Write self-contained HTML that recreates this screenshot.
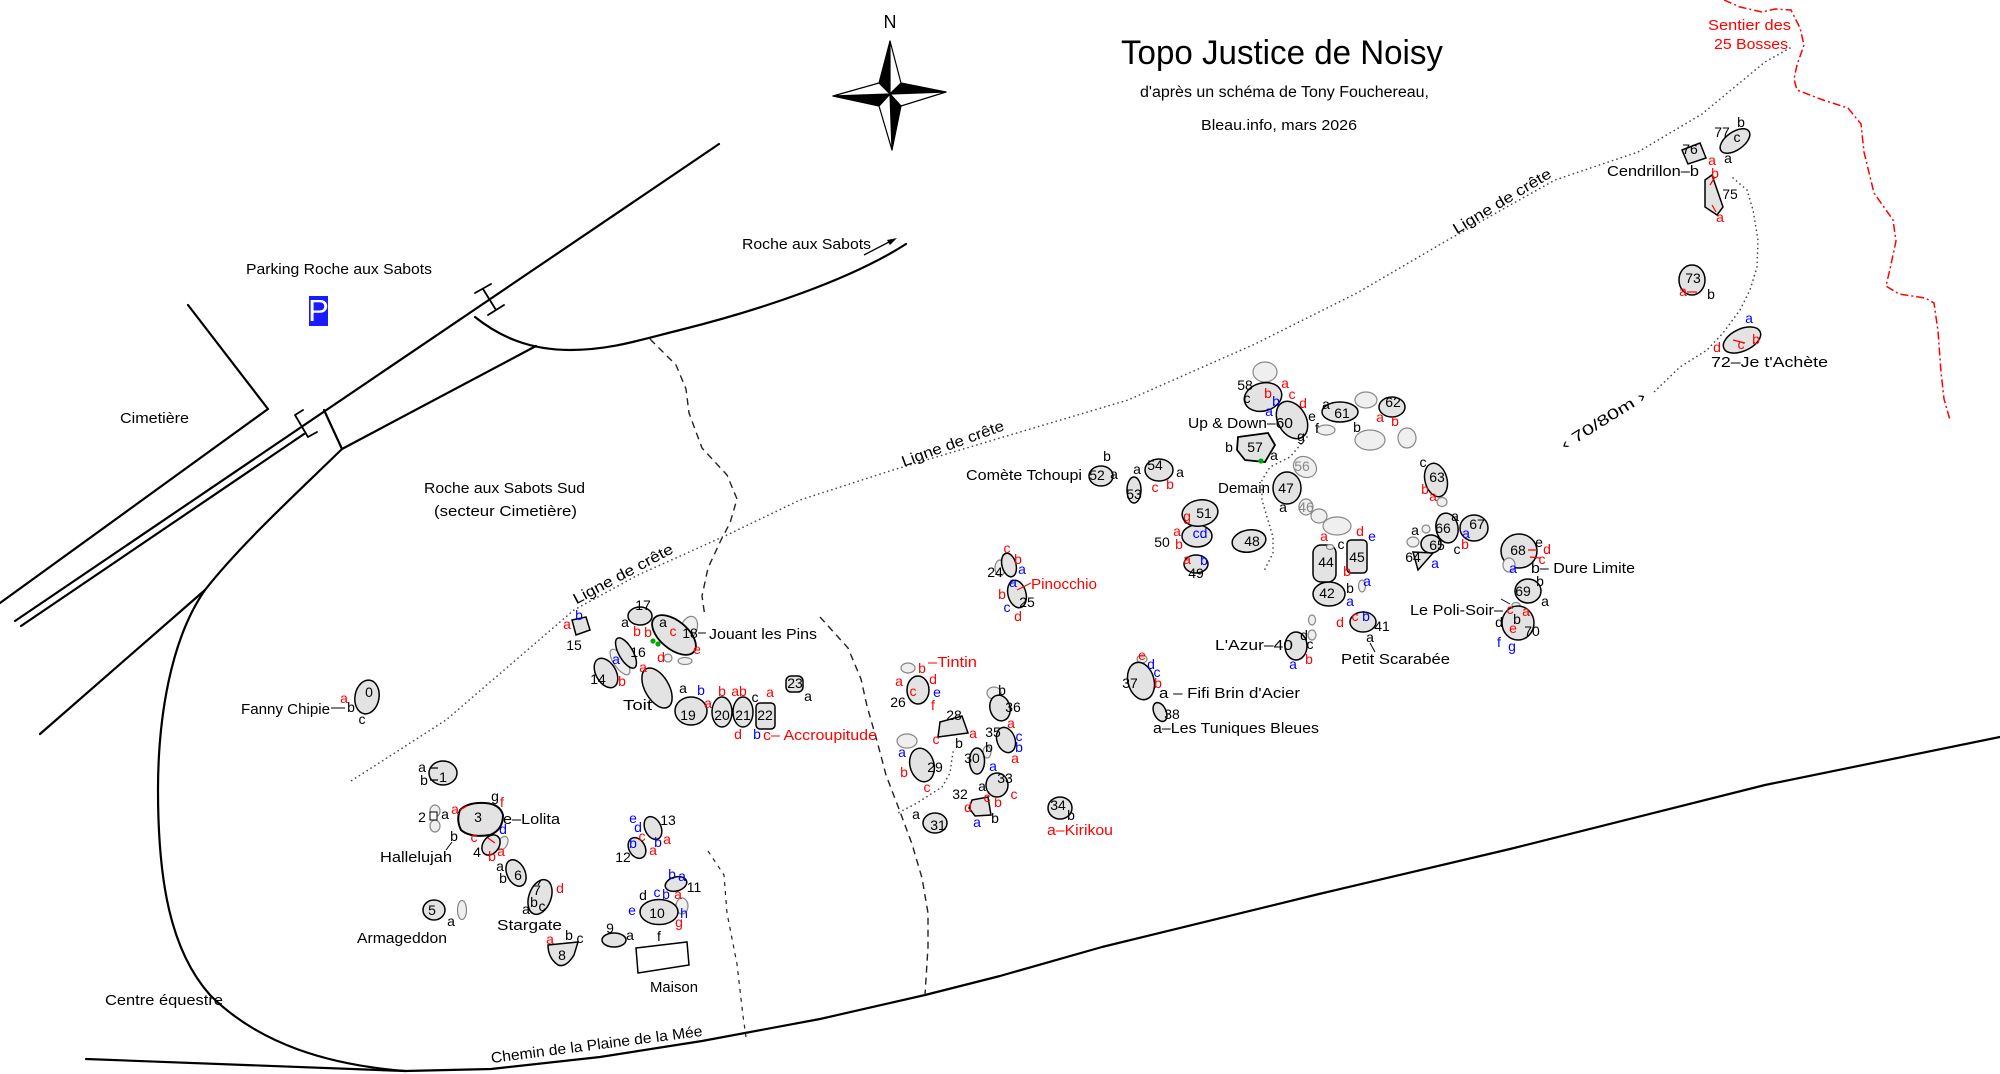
<!DOCTYPE html>
<html><head><meta charset="utf-8"><title>Topo Justice de Noisy</title>
<style>
html,body{margin:0;padding:0;background:#fff;}
svg{display:block;}
.t{font-family:"Liberation Sans","DejaVu Sans",sans-serif;font-size:15px;fill:#000;}
.s{font-size:14px;text-anchor:middle;}
.r{fill:#f00;}
.u{fill:#00f;}
.gy{fill:#888;}
.rd{fill:none;stroke:#000;stroke-width:2.2;stroke-linejoin:round;stroke-linecap:round;}
.bo{fill:#e3e3e3;stroke:#000;stroke-width:1.5;}
.go{fill:#efefef;stroke:#888;stroke-width:1.2;}
.dot{fill:none;stroke:#444;stroke-width:1.6;stroke-dasharray:0.1 4.5;stroke-linecap:round;}
.dash{fill:none;stroke:#222;stroke-width:1.4;stroke-dasharray:7 5;}
</style></head>
<body>
<svg width="2000" height="1074" viewBox="0 0 2000 1074" xmlns="http://www.w3.org/2000/svg">
<rect width="2000" height="1074" fill="#fff"/>

<!-- ROADS -->
<path class="rd" d="M719,144 L15,621"/>
<path class="rd" d="M304,434 L21,626"/>
<path class="rd" d="M188,305 L268,409 L0,603"/>
<path class="rd" d="M324,410 L342,449"/>
<path class="rd" d="M342,449 L536,346"/>
<path class="rd" d="M475,317 C500,337 530,350 570,350 C610,350 640,340 680,330 C760,310 850,280 906,244"/>
<path class="rd" d="M342,449 C300,490 240,545 205,590 C170,640 158,720 158,790 C158,880 170,950 210,995 C260,1045 330,1065 405,1071"/>
<path class="rd" d="M205,590 L40,734"/>
<path class="rd" d="M86,1059 L405,1071 L491,1069 L600,1057 L702,1041 L820,1019 L925,995 L1000,976 L1102,947 L1319,894 L1510,849 L1765,785 L2000,737"/>
<!-- bridge markers -->
<path class="rd" d="M483,289 L496,310 M475,293 L491,284 M488,315 L504,305" style="stroke-width:1.8"/>
<path class="rd" d="M303,410 L295,415 L308,437 L317,432" style="stroke-width:1.8"/>

<!-- dashed / dotted paths -->
<polyline class="dash" points="650,339 676,365 686,389 689,413 702,448 727,475 737,499 730,523 721,540 708,568 702,596 705,617"/>
<polyline class="dash" points="820,617 848,648 861,679 867,706 877,741 886,775 899,809 912,844 922,878 928,913 928,947 925,995"/>
<polyline class="dash" style="stroke-dasharray:4 5;stroke-width:1.2" points="708,851 724,875 727,913 737,964 743,1016 746,1037"/>
<polyline class="dot" points="1790,48 1765,62 1702,114 1638,152 1555,180 1446,241 1357,293 1255,344 1128,400 1000,438 893,470 800,500 727,535 638,575 574,610 510,665 446,720 351,781"/>
<polyline class="dot" points="953,752 950,773 942,787 917,803 898,813"/>
<polyline class="dot" points="1307,437 1290,457 1270,467 1262,480 1262,500 1267,517 1273,537 1273,553 1268,563 1263,573"/>
<polyline class="dot" points="1733,178 1747,190 1753,210 1758,240 1757,267 1750,290 1740,310 1723,333 1707,350 1680,367 1653,393"/>
<!-- red sentier -->
<polyline fill="none" stroke="#f00" stroke-width="1.5" stroke-dasharray="8 3 2 3" points="1724,0 1740,7 1762,12 1775,9 1791,10 1800,28 1804,45 1797,65 1794,79 1797,90 1823,100 1848,108 1861,124 1864,152 1874,193 1893,220 1896,241 1890,269 1886,286 1899,294 1925,298 1934,303 1938,331 1941,372 1944,399 1950,420"/>

<!-- COMPASS -->
<g stroke="#000" stroke-width="1.2" stroke-linejoin="round">
<polygon points="890,41 879,83 890,94" fill="#000"/>
<polygon points="890,41 901,83 890,94" fill="#fff"/>
<polygon points="946,92 901,83 890,94" fill="#000"/>
<polygon points="946,92 901,106 890,94" fill="#fff"/>
<polygon points="892,150 901,106 890,94" fill="#000"/>
<polygon points="892,150 879,106 890,94" fill="#fff"/>
<polygon points="833,96 879,106 890,94" fill="#000"/>
<polygon points="833,96 879,83 890,94" fill="#fff"/>
</g>
<text class="t" x="890" y="28" style="font-size:18px;text-anchor:middle">N</text>

<!-- TITLE -->
<text class="t" x="1121" y="64" style="font-size:34px" textLength="322" lengthAdjust="spacingAndGlyphs">Topo Justice de Noisy</text>
<text class="t" x="1140" y="97" style="font-size:15.5px" textLength="289" lengthAdjust="spacingAndGlyphs">d'après un schéma de Tony Fouchereau,</text>
<text class="t" x="1201" y="130" textLength="156" lengthAdjust="spacingAndGlyphs">Bleau.info, mars 2026</text>
<text class="t r" x="1708" y="30" textLength="83" lengthAdjust="spacingAndGlyphs">Sentier des</text>
<text class="t r" x="1714" y="49" textLength="74" lengthAdjust="spacingAndGlyphs">25 Bosses</text>

<!-- BIG LABELS -->
<text class="t" x="246" y="274" textLength="186" lengthAdjust="spacingAndGlyphs">Parking Roche aux Sabots</text>
<rect x="309" y="296" width="19" height="30" fill="#1a1aff"/>
<text x="318.5" y="321" style="font-family:'Liberation Sans',sans-serif;font-size:31px;fill:#fff;text-anchor:middle">P</text>
<text class="t" x="742" y="249" textLength="129" lengthAdjust="spacingAndGlyphs">Roche aux Sabots</text>
<line x1="864" y1="255" x2="891" y2="241" stroke="#000" stroke-width="1.3"/>
<polygon points="897,238 887,240 890,245" fill="#000"/>
<text class="t" x="120" y="423" textLength="69" lengthAdjust="spacingAndGlyphs">Cimetière</text>
<text class="t" x="424" y="493" textLength="161" lengthAdjust="spacingAndGlyphs">Roche aux Sabots Sud</text>
<text class="t" x="434" y="516" textLength="143" lengthAdjust="spacingAndGlyphs">(secteur Cimetière)</text>
<text class="t" x="105" y="1005" textLength="118" lengthAdjust="spacingAndGlyphs">Centre équestre</text>
<text class="t" transform="translate(491,1058) rotate(-7.3)" x="0" y="5" textLength="213" lengthAdjust="spacingAndGlyphs">Chemin de la Plaine de la Mée</text>
<text class="t" transform="translate(1454,230) rotate(-31)" x="0" y="5" textLength="112" lengthAdjust="spacingAndGlyphs">Ligne de crête</text>
<text class="t" transform="translate(902,462) rotate(-20)" x="0" y="5" textLength="108" lengthAdjust="spacingAndGlyphs">Ligne de crête</text>
<text class="t" transform="translate(574,600) rotate(-28)" x="0" y="5" textLength="111" lengthAdjust="spacingAndGlyphs">Ligne de crête</text>
<text class="t" transform="translate(1562,446) rotate(-32)" x="0" y="5" textLength="97" lengthAdjust="spacingAndGlyphs">‹ 70/80m ›</text>

<!-- BOULDERS -->
<g>
<ellipse class="bo" cx="367" cy="697" rx="12" ry="17" transform="rotate(10 367 697)"/>
<ellipse class="bo" cx="443" cy="773" rx="14" ry="12"/>
<ellipse class="go" cx="435" cy="811" rx="5" ry="6"/>
<ellipse class="go" cx="435" cy="826" rx="5" ry="6"/>
<rect x="430" y="812" width="7" height="8" fill="#fff" stroke="#000" stroke-width="1"/>
<path class="bo" d="M460,810 Q468,802 485,803 Q500,804 503,815 Q503,830 490,835 Q470,838 461,830 Q456,820 460,810Z" style="stroke-width:2"/>
<ellipse class="go" cx="503" cy="843" rx="4.5" ry="7" transform="rotate(25 503 843)"/>
<ellipse class="bo" cx="491" cy="845" rx="8" ry="11" transform="rotate(35 491 845)"/>
<ellipse class="bo" cx="434" cy="910" rx="11" ry="10"/>
<ellipse class="go" cx="462" cy="910" rx="4.5" ry="9.5"/>
<ellipse class="bo" cx="516" cy="873" rx="9" ry="14" transform="rotate(-25 516 873)"/>
<ellipse class="bo" cx="540" cy="897" rx="11" ry="18" transform="rotate(20 540 897)"/>
<path class="bo" d="M548,945 L578,942 L574,955 Q566,968 558,965 Q548,958 548,945Z"/>
<ellipse class="bo" cx="614" cy="940" rx="12" ry="7"/>
<ellipse class="go" cx="682" cy="906" rx="6" ry="8"/>
<ellipse class="bo" cx="659" cy="912" rx="19" ry="12.5"/>
<ellipse class="bo" cx="676" cy="884" rx="11" ry="7" transform="rotate(-15 676 884)"/>
<ellipse class="bo" cx="637" cy="848" rx="8" ry="11" transform="rotate(-30 637 848)"/>
<ellipse class="bo" cx="653" cy="828" rx="8" ry="12" transform="rotate(-25 653 828)"/>
<polygon points="636,948 687,942 689,965 638,973" fill="#fff" stroke="#000" stroke-width="1.5"/>

<polygon class="bo" points="572,620 586,617 590,630 576,635"/>
<ellipse class="bo" cx="640" cy="616" rx="12" ry="9"/>
<ellipse class="go" cx="689" cy="628" rx="8" ry="12" transform="rotate(20 689 628)"/>
<ellipse class="go" cx="668" cy="658" rx="4" ry="4"/>
<ellipse class="go" cx="685" cy="661" rx="7" ry="3.5"/>
<ellipse class="bo" cx="674" cy="635" rx="26" ry="14" transform="rotate(40 674 635)" style="stroke-width:1.8"/>
<ellipse class="go" cx="620" cy="662" rx="6" ry="15" transform="rotate(-35 620 662)"/>
<ellipse class="bo" cx="626" cy="653" rx="7" ry="17" transform="rotate(-30 626 653)"/>
<ellipse class="bo" cx="606" cy="673" rx="10" ry="16" transform="rotate(-30 606 673)"/>
<ellipse class="bo" cx="657" cy="688" rx="12" ry="22" transform="rotate(-30 657 688)"/>
<ellipse class="bo" cx="691" cy="711" rx="16" ry="14"/>
<ellipse class="bo" cx="722" cy="712" rx="10" ry="15"/>
<ellipse class="bo" cx="743" cy="712" rx="10" ry="15"/>
<rect class="bo" x="756" y="703" width="19" height="26" rx="4"/>
<rect class="bo" x="786" y="676" width="17" height="16" rx="5"/>
<circle cx="653" cy="641" r="2.6" fill="#0a0"/>
<circle cx="658" cy="644" r="2.6" fill="#0a0"/>

<ellipse class="go" cx="1000" cy="568" rx="5" ry="8"/>
<ellipse class="bo" cx="1009" cy="565" rx="7" ry="12" transform="rotate(-15 1009 565)"/>
<ellipse class="bo" cx="1017" cy="594" rx="9" ry="14" transform="rotate(-15 1017 594)"/>
<ellipse class="go" cx="908" cy="668" rx="7" ry="5"/>
<ellipse class="bo" cx="918" cy="690" rx="11" ry="14"/>
<polygon class="bo" points="940,722 962,716 968,733 938,737"/>
<ellipse class="go" cx="907" cy="741" rx="10" ry="7"/>
<ellipse class="bo" cx="922" cy="765" rx="12" ry="17" transform="rotate(-15 922 765)"/>
<ellipse class="go" cx="987" cy="752" rx="4" ry="6"/>
<ellipse class="bo" cx="977" cy="761" rx="7.5" ry="13"/>
<ellipse class="bo" cx="935" cy="823" rx="12" ry="10"/>
<polygon class="bo" points="972,800 988,797 991,815 975,816 969,808"/>
<ellipse class="bo" cx="997" cy="785" rx="11" ry="12"/>
<ellipse class="bo" cx="1060" cy="808" rx="12" ry="11"/>
<ellipse class="bo" cx="1006" cy="740" rx="9" ry="13" transform="rotate(-20 1006 740)"/>
<ellipse class="go" cx="994" cy="693" rx="7" ry="6"/>
<ellipse class="bo" cx="1000" cy="708" rx="10" ry="13" transform="rotate(-15 1000 708)"/>
<ellipse class="go" cx="1142" cy="659" rx="5" ry="4"/>
<ellipse class="bo" cx="1141" cy="681" rx="13" ry="19" transform="rotate(-15 1141 681)"/>
<ellipse class="bo" cx="1160" cy="712" rx="6" ry="10" transform="rotate(-25 1160 712)"/>

<ellipse class="go" cx="1312" cy="620" rx="3.5" ry="5"/>
<ellipse class="go" cx="1312" cy="635" rx="4" ry="5"/>
<ellipse class="bo" cx="1296" cy="646" rx="11" ry="14"/>
<ellipse class="bo" cx="1363" cy="622" rx="13" ry="10"/>
<ellipse class="bo" cx="1329" cy="594" rx="16" ry="12"/>
<rect class="bo" x="1313" y="545" width="23" height="37" rx="8"/>
<rect class="bo" x="1347" y="540" width="20" height="33" rx="4"/>
<ellipse class="go" cx="1362" cy="586" rx="3.5" ry="6"/>
<ellipse class="go" cx="1330" cy="547" rx="3.5" ry="2.5"/>
<ellipse class="go" cx="1306" cy="507" rx="7" ry="8"/>
<ellipse class="go" cx="1319" cy="516" rx="8" ry="7"/>
<ellipse class="go" cx="1337" cy="526" rx="14" ry="9"/>
<ellipse class="bo" cx="1287" cy="488" rx="14" ry="16"/>
<ellipse class="bo" cx="1249" cy="541" rx="17" ry="11" transform="rotate(-10 1249 541)"/>
<ellipse class="bo" cx="1196" cy="564" rx="12" ry="9"/>
<ellipse class="bo" cx="1197" cy="536" rx="15" ry="11"/>
<ellipse class="bo" cx="1200" cy="513" rx="18" ry="13" transform="rotate(-10 1200 513)"/>
<ellipse class="bo" cx="1101" cy="476" rx="12" ry="10"/>
<ellipse class="bo" cx="1134" cy="490" rx="7" ry="13"/>
<ellipse class="bo" cx="1159" cy="470" rx="14" ry="11"/>
<ellipse class="go" cx="1305" cy="467" rx="12" ry="10" transform="rotate(30 1305 467)"/>
<polygon class="bo" points="1238,437 1268,433 1275,445 1265,462 1245,460 1237,450" style="stroke-width:1.8"/>
<circle cx="1261" cy="461" r="2.6" fill="#0a0"/>
<ellipse class="go" cx="1265" cy="372" rx="12" ry="10"/>
<ellipse class="bo" cx="1263" cy="397" rx="19" ry="14" transform="rotate(-15 1263 397)"/>
<ellipse class="bo" cx="1292" cy="420" rx="14" ry="20" transform="rotate(-30 1292 420)"/>
<ellipse class="go" cx="1326" cy="430" rx="9" ry="5"/>
<ellipse class="bo" cx="1340" cy="412" rx="18" ry="10"/>
<ellipse class="bo" cx="1392" cy="407" rx="13" ry="10"/>
<ellipse class="go" cx="1366" cy="400" rx="11" ry="8"/>
<ellipse class="go" cx="1370" cy="440" rx="15" ry="10"/>
<ellipse class="go" cx="1407" cy="438" rx="9" ry="10"/>

<ellipse class="bo" cx="1436" cy="480" rx="11" ry="17" transform="rotate(-15 1436 480)"/>
<ellipse class="go" cx="1442" cy="502" rx="5" ry="4.5"/>
<polygon class="bo" points="1413,552 1433,553 1418,570"/>
<ellipse class="go" cx="1413" cy="542" rx="6" ry="5"/>
<ellipse class="go" cx="1426" cy="529" rx="4" ry="4"/>
<ellipse class="bo" cx="1431" cy="544" rx="10" ry="9"/>
<ellipse class="bo" cx="1447" cy="528" rx="11" ry="15" transform="rotate(-10 1447 528)"/>
<ellipse class="bo" cx="1474" cy="528" rx="14" ry="13"/>
<ellipse class="bo" cx="1519" cy="551" rx="18" ry="17"/>
<ellipse class="go" cx="1509" cy="565" rx="6" ry="7"/>
<ellipse class="bo" cx="1528" cy="591" rx="13" ry="12"/>
<ellipse class="go" cx="1516" cy="605" rx="4" ry="2.5"/>
<ellipse class="bo" cx="1518" cy="623" rx="16" ry="17"/>
<ellipse class="bo" cx="1742" cy="340" rx="20" ry="11" transform="rotate(-25 1742 340)"/>
<ellipse class="bo" cx="1692" cy="280" rx="13" ry="15"/>
<polygon class="bo" points="1705,180 1712,175 1723,207 1717,215 1705,207"/>
<polygon class="bo" points="1682,150 1700,143 1706,158 1688,164"/>
<ellipse class="bo" cx="1735" cy="141" rx="17" ry="9" transform="rotate(-35 1735 141)"/>
</g>

<!-- connecting lines -->
<g stroke="#000" stroke-width="1">
<line x1="331" y1="708" x2="345" y2="708"/>
<line x1="446" y1="850" x2="452" y2="842"/>
<line x1="698" y1="633" x2="706" y2="633"/>
<line x1="1370" y1="643" x2="1375" y2="652"/>
<line x1="1501" y1="599" x2="1510" y2="604"/>
</g>
<line x1="1017" y1="590" x2="1031" y2="583" stroke="#f00" stroke-width="1"/>

<!-- NAMED LABELS -->
<text class="t" x="241" y="714" textLength="89" lengthAdjust="spacingAndGlyphs">Fanny Chipie</text>
<text class="t" x="380" y="862" textLength="72" lengthAdjust="spacingAndGlyphs">Hallelujah</text>
<text class="t" x="503" y="824" textLength="57" lengthAdjust="spacingAndGlyphs">e–Lolita</text>
<text class="t" x="357" y="943" textLength="90" lengthAdjust="spacingAndGlyphs">Armageddon</text>
<text class="t" x="497" y="930" textLength="65" lengthAdjust="spacingAndGlyphs">Stargate</text>
<text class="t" x="650" y="992" textLength="48" lengthAdjust="spacingAndGlyphs">Maison</text>
<text class="t" x="623" y="710" textLength="29" lengthAdjust="spacingAndGlyphs">Toit</text>
<text class="t" x="709" y="639" textLength="108" lengthAdjust="spacingAndGlyphs">Jouant les Pins</text>
<text class="t r" x="763" y="740" textLength="114" lengthAdjust="spacingAndGlyphs">c– Accroupitude</text>
<text class="t r" x="928" y="667" textLength="49" lengthAdjust="spacingAndGlyphs">–Tintin</text>
<text class="t r" x="1031" y="589" textLength="66" lengthAdjust="spacingAndGlyphs">Pinocchio</text>
<text class="t r" x="1047" y="835" textLength="66" lengthAdjust="spacingAndGlyphs">a–Kirikou</text>
<text class="t" x="1159" y="698" textLength="141" lengthAdjust="spacingAndGlyphs">a – Fifi Brin d'Acier</text>
<text class="t" x="1153" y="733" textLength="166" lengthAdjust="spacingAndGlyphs">a–Les Tuniques Bleues</text>
<text class="t" x="966" y="480" textLength="116" lengthAdjust="spacingAndGlyphs">Comète Tchoupi</text>
<text class="t" x="1188" y="428" textLength="105" lengthAdjust="spacingAndGlyphs">Up &amp; Down–60</text>
<text class="t" x="1218" y="493" textLength="52" lengthAdjust="spacingAndGlyphs">Demain</text>
<text class="t" x="1215" y="650" textLength="78" lengthAdjust="spacingAndGlyphs">L'Azur–40</text>
<text class="t" x="1341" y="664" textLength="109" lengthAdjust="spacingAndGlyphs">Petit Scarabée</text>
<text class="t" x="1410" y="615" textLength="93" lengthAdjust="spacingAndGlyphs">Le Poli-Soir–</text>
<text class="t" x="1531" y="573" textLength="104" lengthAdjust="spacingAndGlyphs">b– Dure Limite</text>
<text class="t" x="1607" y="176" textLength="92" lengthAdjust="spacingAndGlyphs">Cendrillon–b</text>
<text class="t" x="1711" y="367" textLength="117" lengthAdjust="spacingAndGlyphs">72–Je t'Achète</text>

<!-- SMALL LABELS -->
<g class="t s">
<text x="369" y="697">0</text><text class="r" x="344" y="703">a</text><text x="351" y="712">b</text><text x="362" y="724">c</text>
<text x="443" y="782">1</text><text x="422" y="772">a</text><text x="424" y="785">b</text>
<text x="422" y="822">2</text><text x="445" y="819">a</text>
<text x="478" y="822">3</text><text class="r" x="455" y="814">a</text><text x="495" y="801">g</text><text class="r" x="502" y="807">f</text><text class="u" x="503" y="834">d</text><text class="r" x="474" y="842">c</text><text x="454" y="841">b</text>
<text x="477" y="857">4</text><text class="r" x="492" y="861">b</text><text class="r" x="501" y="856">a</text>
<text x="518" y="880">6</text><text x="500" y="871">a</text><text x="503" y="883">b</text>
<text x="537" y="895">7</text><text class="r" x="560" y="893">d</text><text x="534" y="907">b</text><text x="526" y="914">a</text><text x="542" y="911">c</text>
<text x="432" y="915">5</text><text x="451" y="926">a</text>
<text x="562" y="960">8</text><text class="r" x="550" y="944">a</text><text x="569" y="940">b</text><text x="580" y="943">c</text>
<text x="610" y="933">9</text><text x="630" y="940">a</text>
<text x="657" y="918">10</text><text x="643" y="900">d</text><text class="u" x="657" y="897">c</text><text class="u" x="666" y="899">b</text><text class="r" x="678" y="899">a</text><text class="u" x="632" y="915">e</text><text class="u" x="684" y="918">h</text><text class="r" x="679" y="927">g</text><text x="659" y="941">f</text>
<text x="694" y="892">11</text><text class="u" x="672" y="879">b</text><text class="u" x="682" y="881">a</text>
<text x="623" y="862">12</text><text class="u" x="633" y="848">b</text><text class="r" x="653" y="855">a</text>
<text x="668" y="825">13</text><text class="u" x="633" y="823">e</text><text class="u" x="638" y="832">d</text><text class="r" x="642" y="841">c</text><text class="u" x="658" y="847">b</text><text class="r" x="667" y="844">a</text>
<text x="574" y="650">15</text><text class="r" x="567" y="629">a</text><text class="u" x="579" y="620">b</text>
<text x="643" y="610">17</text><text x="625" y="627">a</text><text class="r" x="637" y="636">b</text>
<text x="690" y="638">18</text><text x="663" y="627">a</text><text class="r" x="648" y="637">b</text><text class="r" x="673" y="636">c</text><text class="r" x="661" y="662">d</text><text class="r" x="697" y="654">e</text>
<text x="638" y="657">16</text>
<text x="598" y="684">14</text><text class="u" x="616" y="664">a</text><text class="r" x="622" y="686">b</text>
<text class="r" x="643" y="672">a</text>
<text x="688" y="720">19</text><text x="683" y="693">a</text><text class="u" x="701" y="695">b</text>
<text x="722" y="720">20</text><text class="r" x="708" y="708">a</text><text class="r" x="722" y="696">b</text>
<text x="743" y="720">21</text><text class="r" x="739" y="696">ab</text><text class="r" x="738" y="739">d</text>
<text x="765" y="720">22</text><text x="755" y="702">c</text><text class="r" x="770" y="697">a</text><text class="u" x="757" y="739">b</text>
<text x="795" y="688">23</text><text x="808" y="701">a</text>
<text x="995" y="577">24</text><text class="r" x="1007" y="553">c</text><text class="r" x="1018" y="564">b</text><text class="u" x="1022" y="574">a</text>
<text x="1027" y="607">25</text><text class="u" x="1013" y="587">a</text><text class="r" x="1002" y="599">b</text><text class="u" x="1007" y="612">c</text><text class="r" x="1018" y="621">d</text>
<text x="898" y="707">26</text><text class="r" x="899" y="686">a</text><text class="r" x="922" y="673">b</text><text class="r" x="933" y="684">d</text><text class="r" x="913" y="696">c</text><text class="u" x="937" y="697">e</text><text class="r" x="933" y="710">f</text>
<text x="954" y="720">28</text><text class="r" x="973" y="738">a</text><text class="r" x="936" y="744">c</text><text x="959" y="748">b</text>
<text x="935" y="772">29</text><text class="u" x="902" y="757">a</text><text class="r" x="904" y="777">b</text><text class="r" x="927" y="792">c</text>
<text x="972" y="763">30</text><text x="989" y="752">b</text><text class="u" x="993" y="771">a</text>
<text x="938" y="830">31</text><text x="916" y="819">a</text>
<text x="960" y="799">32</text><text class="r" x="987" y="802">c</text><text class="r" x="968" y="812">d</text><text class="u" x="977" y="827">a</text><text x="995" y="823">b</text>
<text x="1005" y="783">33</text><text x="982" y="791">a</text><text class="r" x="998" y="807">b</text><text class="r" x="1014" y="799">c</text>
<text x="993" y="737">35</text><text class="u" x="1019" y="741">c</text><text class="u" x="1019" y="752">b</text><text class="r" x="1015" y="763">a</text>
<text x="1013" y="712">36</text><text x="1002" y="695">b</text><text class="r" x="1011" y="728">a</text>
<text x="1058" y="810">34</text><text x="1071" y="820">b</text>
<text x="1130" y="688">37</text><text class="r" x="1142" y="660">e</text><text class="u" x="1151" y="669">d</text><text class="u" x="1157" y="677">c</text><text class="r" x="1158" y="688">b</text>
<text x="1172" y="719">38</text>
<text x="1304" y="640">d</text><text x="1310" y="649">c</text><text class="u" x="1293" y="669">a</text><text class="r" x="1309" y="664">b</text>
<text x="1382" y="631">41</text><text class="r" x="1340" y="627">d</text><text class="r" x="1355" y="621">c</text><text class="u" x="1366" y="621">b</text><text x="1370" y="642">a</text>
<text x="1327" y="598">42</text><text x="1350" y="593">b</text><text class="u" x="1350" y="606">a</text>
<text x="1326" y="567">44</text><text class="r" x="1324" y="541">a</text>
<text x="1357" y="562">45</text><text x="1341" y="549">c</text><text class="r" x="1360" y="536">d</text><text class="u" x="1372" y="541">e</text><text class="r" x="1347" y="576">b</text><text class="u" x="1367" y="586">a</text>
<text x="1286" y="493">47</text><text x="1283" y="512">a</text>
<text class="gy" x="1306" y="512">46</text>
<text class="gy" x="1302" y="471">56</text>
<text x="1252" y="546">48</text>
<text x="1196" y="578">49</text><text class="r" x="1187" y="564">a</text><text class="u" x="1204" y="565">b</text>
<text x="1162" y="547">50</text><text class="r" x="1187" y="521">g</text><text class="r" x="1177" y="536">a</text><text class="r" x="1179" y="549">b</text><text class="u" x="1200" y="538">cd</text>
<text x="1204" y="518">51</text>
<text x="1097" y="480">52</text><text x="1114" y="479">a</text><text x="1107" y="461">b</text>
<text x="1134" y="499">53</text>
<text x="1155" y="470">54</text><text x="1180" y="477">a</text><text class="r" x="1170" y="489">b</text><text class="r" x="1155" y="492">c</text><text x="1137" y="474">a</text>
<text x="1255" y="452">57</text><text x="1229" y="452">b</text><text x="1274" y="460">a</text>
<text x="1245" y="390">58</text><text class="r" x="1285" y="388">a</text><text class="r" x="1268" y="398">b</text><text x="1247" y="403">c</text>
<text class="r" x="1292" y="399">c</text><text class="r" x="1303" y="408">d</text><text class="u" x="1276" y="406">b</text><text class="u" x="1269" y="416">a</text><text x="1312" y="421">e</text><text x="1317" y="433">f</text><text x="1301" y="441">g</text>
<text x="1342" y="418">61</text><text x="1326" y="409">a</text><text x="1357" y="432">b</text>
<text x="1393" y="407">62</text><text class="r" x="1380" y="422">a</text><text class="r" x="1395" y="426">b</text>
<text x="1437" y="482">63</text><text x="1423" y="467">c</text><text class="r" x="1425" y="494">b</text><text class="r" x="1433" y="501">a</text>
<text x="1443" y="533">66</text><text x="1455" y="521">a</text><text class="u" x="1466" y="538">a</text><text class="r" x="1465" y="549">b</text><text x="1457" y="554">c</text>
<text x="1477" y="529">67</text>
<text x="1437" y="550">65</text><text x="1415" y="535">a</text>
<text x="1413" y="562">64</text><text class="u" x="1435" y="568">a</text>
<text x="1518" y="555">68</text><text x="1539" y="547">e</text><text class="r" x="1547" y="554">d</text><text class="r" x="1542" y="564">c</text><text class="u" x="1513" y="573">a</text>
<text x="1523" y="596">69</text><text x="1540" y="586">b</text><text x="1545" y="606">a</text>
<text x="1532" y="636">70</text><text class="r" x="1510" y="614">c</text><text class="r" x="1526" y="616">a</text><text x="1517" y="624">b</text><text x="1499" y="627">d</text><text class="r" x="1513" y="633">e</text><text class="u" x="1499" y="647">f</text><text class="u" x="1512" y="651">g</text>
<text class="u" x="1749" y="323">a</text><text class="r" x="1717" y="352">d</text><text class="r" x="1741" y="349">c</text><text class="r" x="1756" y="344">b</text>
<text x="1693" y="283">73</text><text class="r" x="1683" y="296">a</text><text x="1711" y="299">b</text>
<text x="1730" y="199">75</text><text class="r" x="1715" y="178">b</text><text class="r" x="1720" y="222">a</text>
<text x="1690" y="154">76</text><text class="r" x="1712" y="165">a</text>
<text x="1722" y="137">77</text><text x="1741" y="127">b</text><text x="1737" y="142">c</text><text x="1728" y="163">a</text>
</g>

<!-- a few small arrows -->
<g stroke-width="1.2" fill="none">
<path d="M430,768 L438,768 M430,780 L438,780" stroke="#000"/>
<path d="M460,810 L467,806" stroke="#f00"/>
<path d="M495,843 L488,838" stroke="#f00"/>
<path d="M538,885 L541,880" stroke="#000"/>
<path d="M1715,177 L1710,185" stroke="#f00"/>
<path d="M1716,212 L1712,205" stroke="#f00"/>
<path d="M1687,292 L1697,292" stroke="#f00"/>
<path d="M1733,340 L1745,343" stroke="#f00"/>
<path d="M1537,550 L1528,550 M1540,558 L1530,557" stroke="#f00"/>
</g>
</svg>
</body></html>
